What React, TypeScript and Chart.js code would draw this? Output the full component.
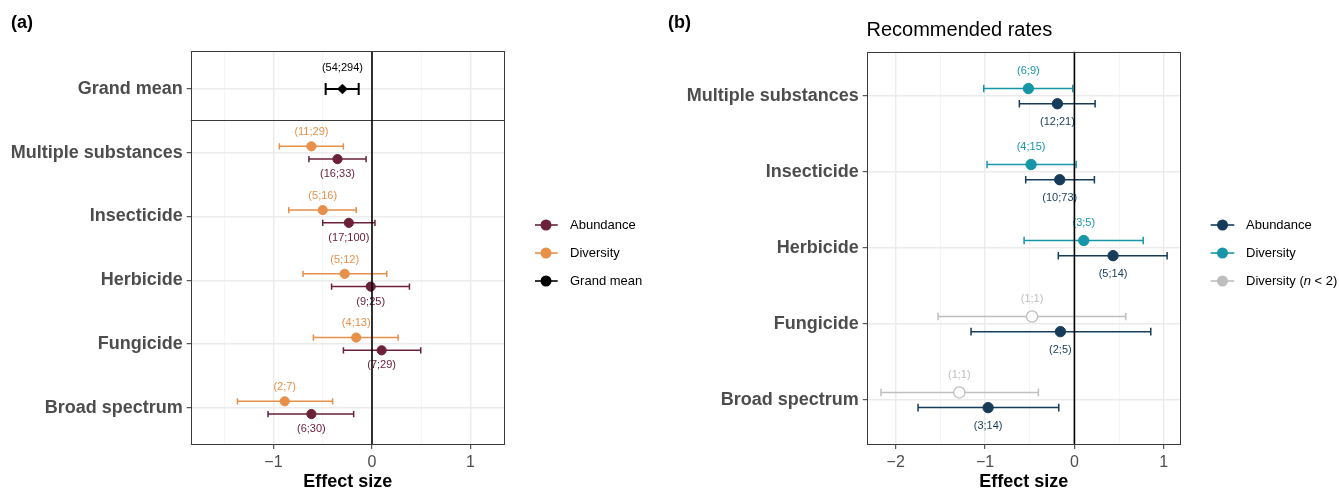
import React, { useEffect, useRef } from 'react';
import { Chart, registerables } from 'chart.js';

Chart.register(...registerables);

const FONT = "'Liberation Sans', Arial, Helvetica, sans-serif";

// ---------------- Panel (a) data ----------------
const categoriesA = ['Grand mean', 'Multiple substances', 'Insecticide', 'Herbicide', 'Fungicide', 'Broad spectrum'];

const grandMeanEst = [-0.3];
const grandMeanLo = [-0.47];
const grandMeanHi = [-0.135];
const grandMeanLabels = ['(54;294)'];

// order: Multiple substances, Insecticide, Herbicide, Fungicide, Broad spectrum
const abundanceAEst = [-0.35, -0.235, -0.013, 0.098, -0.615];
const abundanceALo = [-0.64, -0.5, -0.41, -0.29, -1.055];
const abundanceAHi = [-0.06, 0.03, 0.38, 0.495, -0.186];
const abundanceALabels = ['(16;33)', '(17;100)', '(9;25)', '(7;29)', '(6;30)'];

const diversityAEst = [-0.615, -0.5, -0.277, -0.16, -0.886];
const diversityALo = [-0.94, -0.845, -0.7, -0.595, -1.366];
const diversityAHi = [-0.29, -0.16, 0.15, 0.265, -0.4];
const diversityALabels = ['(11;29)', '(5;16)', '(5;12)', '(4;13)', '(2;7)'];

const xGridA = [-1.5, -1, -0.5, 0, 0.5, 1];

// ---------------- Panel (b) data ----------------
const categoriesB = ['Multiple substances', 'Insecticide', 'Herbicide', 'Fungicide', 'Broad spectrum'];

const abundanceBEst = [-0.19, -0.164, 0.433, -0.157, -0.966];
const abundanceBLo = [-0.616, -0.545, -0.18, -1.157, -1.75];
const abundanceBHi = [0.232, 0.224, 1.038, 0.855, -0.175];
const abundanceBLabels = ['(12;21)', '(10;73)', '(5;14)', '(2;5)', '(3;14)'];

const diversityBEst = [-0.515, -0.485, 0.105, null, null];
const diversityBLo = [-1.015, -0.978, -0.563, null, null];
const diversityBHi = [-0.018, 0.02, 0.77, null, null];
const diversityBLabels = ['(6;9)', '(4;15)', '(3;5)', '', ''];

const diversitySmallBEst = [null, null, null, -0.474, -1.288];
const diversitySmallBLo = [null, null, null, -1.526, -2.165];
const diversitySmallBHi = [null, null, null, 0.575, -0.403];
const diversitySmallBLabels = ['', '', '', '(1;1)', '(1;1)'];

const xGridB = [-2, -1.5, -1, -0.5, 0, 0.5, 1];

// ---------------- styling ----------------
const C_ABUND_A = '#6B2239';
const C_DIV_A = '#E6904A';
const C_GRAND = '#000000';
const C_ABUND_B = '#173C5A';
const C_DIV_B = '#1796A8';
const C_SMALL = '#BEBEBE';

type Num = number | null;
interface Series {
  est: Num[];
  lo: Num[];
  hi: Num[];
  labels: string[];
  pos: number[];
  color: string;
  fill: string;
  pointStyle: string;
  radius: number;
  cap: number;
  lw: number;
  labelDy: number;
}

interface LegendItem {
  parts: { t: string; italic?: boolean }[];
  color: string;
}

interface Spec {
  offset: number; // page x of canvas
  width: number;
  area: { left: number; top: number; right: number; bottom: number };
  categories: string[];
  catPos: number[];
  yMin: number;
  yMax: number;
  xMin: number;
  xMax: number;
  xGrid: number[];
  series: Series[];
  separator: number | null;
  legend: { x0: number; x1: number; cx: number; tx: number; ys: number[]; items: LegendItem[] };
  letter: { text: string; x: number; y: number };
  title: { text: string; x: number; y: number } | null;
}

const fmt = (v: number) => (v < 0 ? '\u2212' + Math.abs(v) : String(v));

function seriesDatasets(s: Series) {
  const bars: any[] = [];
  const pts: any[] = [];
  s.est.forEach((e, i) => {
    if (e == null) return;
    const p = s.pos[i];
    bars.push({ x: s.lo[i], y: p }, { x: s.hi[i], y: p }, { x: null, y: null });
    pts.push({ x: e, y: p });
  });
  return [
    {
      type: 'line',
      data: bars,
      borderColor: s.color,
      borderWidth: s.lw,
      pointStyle: 'line',
      pointRotation: 90,
      pointRadius: s.cap,
      pointBorderColor: s.color,
      pointBackgroundColor: s.color,
      pointBorderWidth: s.lw,
      showLine: true,
      spanGaps: false,
      fill: false,
      tension: 0,
      order: 2,
    },
    {
      type: 'line',
      data: pts,
      showLine: false,
      pointStyle: s.pointStyle,
      pointRadius: s.radius,
      pointBackgroundColor: s.fill,
      pointBorderColor: s.color,
      pointBorderWidth: s.pointStyle === 'circle' && s.fill === '#ffffff' ? 1.3 : 1,
      order: 1,
    },
  ];
}

function buildConfig(spec: Spec): any {
  const o = spec.offset;
  const decor = {
    id: 'decor',
    beforeDatasetsDraw(chart: any) {
      const { ctx, chartArea: a, scales } = chart;
      const y = scales.y;
      ctx.save();
      if (spec.separator != null) {
        const py = Math.round(y.getPixelForValue(spec.separator)) + 0.5;
        ctx.strokeStyle = '#3A3A3A';
        ctx.lineWidth = 1;
        ctx.beginPath();
        ctx.moveTo(a.left, py);
        ctx.lineTo(a.right, py);
        ctx.stroke();
      }
      ctx.restore();
    },
    afterDatasetsDraw(chart: any) {
      const { ctx, chartArea: a, scales } = chart;
      const x = scales.x;
      const y = scales.y;
      ctx.save();
      ctx.font = `11px ${FONT}`;
      ctx.textAlign = 'center';
      ctx.textBaseline = 'middle';
      for (const s of spec.series) {
        ctx.fillStyle = s.color;
        s.est.forEach((e, i) => {
          if (e == null || !s.labels[i]) return;
          ctx.fillText(s.labels[i], x.getPixelForValue(e), y.getPixelForValue(s.pos[i] + s.labelDy));
        });
      }
      // reference line at zero (on top, as in the original)
      const px = x.getPixelForValue(0);
      ctx.strokeStyle = '#000000';
      ctx.lineWidth = 1.6;
      ctx.beginPath();
      ctx.moveTo(px, a.top);
      ctx.lineTo(px, a.bottom);
      ctx.stroke();
      // panel border
      ctx.strokeStyle = '#3A3A3A';
      ctx.lineWidth = 1;
      const l = Math.round(a.left) + 0.5;
      const t = Math.round(a.top) + 0.5;
      const r = Math.round(a.right) - 0.5;
      const b = Math.round(a.bottom) - 0.5;
      ctx.strokeRect(l, t, r - l, b - t);
      ctx.restore();
    },
    afterDraw(chart: any) {
      const { ctx } = chart;
      ctx.save();
      // legend
      const lg = spec.legend;
      lg.items.forEach((it, k) => {
        const yy = lg.ys[k];
        ctx.strokeStyle = it.color;
        ctx.lineWidth = 1.6;
        ctx.beginPath();
        ctx.moveTo(lg.x0 - o, yy);
        ctx.lineTo(lg.x1 - o, yy);
        ctx.stroke();
        ctx.fillStyle = it.color;
        ctx.beginPath();
        ctx.arc(lg.cx - o, yy, 5.5, 0, Math.PI * 2);
        ctx.fill();
        let tx = lg.tx - o;
        ctx.fillStyle = '#000000';
        ctx.textBaseline = 'middle';
        ctx.textAlign = 'left';
        for (const p of it.parts) {
          ctx.font = `${p.italic ? 'italic ' : ''}13px ${FONT}`;
          ctx.fillText(p.t, tx, yy);
          tx += ctx.measureText(p.t).width;
        }
      });
      // panel letter
      ctx.fillStyle = '#000000';
      ctx.font = `bold 18px ${FONT}`;
      ctx.textAlign = 'left';
      ctx.textBaseline = 'middle';
      ctx.fillText(spec.letter.text, spec.letter.x - o, spec.letter.y);
      if (spec.title) {
        ctx.font = `20px ${FONT}`;
        ctx.fillText(spec.title.text, spec.title.x - o, spec.title.y);
      }
      ctx.restore();
    },
  };

  const datasets = spec.series.flatMap(seriesDatasets);
  const isInt = (v: number) => Math.abs(v - Math.round(v)) < 1e-9;

  return {
    type: 'line',
    data: { datasets },
    plugins: [decor],
    options: {
      animation: false,
      responsive: false,
      events: [],
      layout: {
        padding: {
          left: 0,
          top: spec.area.top,
          right: o + spec.width - spec.area.right,
          bottom: 0,
        },
      },
      plugins: { legend: { display: false }, tooltip: { enabled: false } },
      scales: {
        x: {
          type: 'linear',
          min: spec.xMin,
          max: spec.xMax,
          afterBuildTicks: (scale: any) => {
            scale.ticks = spec.xGrid.map((v) => ({ value: v }));
          },
          afterFit: (scale: any) => {
            scale.height = 491 - spec.area.bottom;
          },
          border: { display: false },
          grid: {
            color: (c: any) => (c.tick && isInt(c.tick.value) ? '#EBEBEB' : '#F3F3F3'),
            lineWidth: (c: any) => (c.tick && isInt(c.tick.value) ? 1.4 : 0.8),
            tickColor: (c: any) => (c.tick && isInt(c.tick.value) ? '#333333' : 'rgba(0,0,0,0)'),
            tickLength: 4,
            tickWidth: 1,
          },
          ticks: {
            autoSkip: false,
            maxRotation: 0,
            padding: 4,
            color: '#4D4D4D',
            font: { family: FONT, size: 16 },
            callback: (v: number) => (isInt(v) ? fmt(Math.round(v)) : ''),
          },
          title: {
            display: true,
            text: 'Effect size',
            color: '#000000',
            font: { family: FONT, size: 18, weight: 'bold', lineHeight: 1 },
            padding: { top: 0, bottom: 0 },
          },
        },
        y: {
          type: 'linear',
          reverse: true,
          min: spec.yMin,
          max: spec.yMax,
          afterBuildTicks: (scale: any) => {
            scale.ticks = spec.catPos.map((v) => ({ value: v }));
          },
          afterFit: (scale: any) => {
            scale.width = spec.area.left - o;
          },
          border: { display: false },
          grid: {
            color: '#EBEBEB',
            lineWidth: 1.4,
            tickColor: '#333333',
            tickLength: 4,
            tickWidth: 1,
          },
          ticks: {
            autoSkip: false,
            padding: 4,
            color: '#4D4D4D',
            font: { family: FONT, size: 18, weight: 'bold' },
            callback: (v: number) => {
              const k = spec.catPos.findIndex((p) => Math.abs(p - v) < 1e-9);
              return k >= 0 ? spec.categories[k] : '';
            },
          },
        },
      },
    },
  };
}

const DODGE = 0.1;
const catsA = [1, 2, 3, 4, 5];

const specA: Spec = {
  offset: 0,
  width: 665,
  area: { left: 190.7, top: 51, right: 505, bottom: 445 },
  categories: categoriesA,
  catPos: categoriesA.map((_, i) => i),
  yMin: -0.596,
  yMax: 5.585,
  xMin: -1.84,
  xMax: 1.35,
  xGrid: xGridA,
  separator: 0.486,
  series: [
    {
      est: diversityAEst, lo: diversityALo, hi: diversityAHi, labels: diversityALabels,
      pos: catsA.map((c) => c - DODGE), color: C_DIV_A, fill: C_DIV_A, pointStyle: 'circle',
      radius: 4.6, cap: 3.2, lw: 1.5, labelDy: -0.225,
    },
    {
      est: abundanceAEst, lo: abundanceALo, hi: abundanceAHi, labels: abundanceALabels,
      pos: catsA.map((c) => c + DODGE), color: C_ABUND_A, fill: C_ABUND_A, pointStyle: 'circle',
      radius: 4.6, cap: 3.2, lw: 1.5, labelDy: 0.235,
    },
    {
      est: grandMeanEst, lo: grandMeanLo, hi: grandMeanHi, labels: grandMeanLabels,
      pos: [0], color: C_GRAND, fill: C_GRAND, pointStyle: 'rectRot',
      radius: 4.8, cap: 6, lw: 2, labelDy: -0.325,
    },
  ],
  legend: {
    x0: 535, x1: 557.7, cx: 546, tx: 570, ys: [225, 253, 281],
    items: [
      { parts: [{ t: 'Abundance' }], color: C_ABUND_A },
      { parts: [{ t: 'Diversity' }], color: C_DIV_A },
      { parts: [{ t: 'Grand mean' }], color: C_GRAND },
    ],
  },
  letter: { text: '(a)', x: 11, y: 23 },
  title: null,
};

const catsB = [0, 1, 2, 3, 4];

const specB: Spec = {
  offset: 665,
  width: 674,
  area: { left: 866.7, top: 51.7, right: 1180.7, bottom: 445 },
  categories: categoriesB,
  catPos: categoriesB.map((_, i) => i),
  yMin: -0.585,
  yMax: 4.592,
  xMin: -2.325,
  xMax: 1.19,
  xGrid: xGridB,
  separator: null,
  series: [
    {
      est: diversityBEst, lo: diversityBLo, hi: diversityBHi, labels: diversityBLabels,
      pos: catsB.map((c) => c - DODGE), color: C_DIV_B, fill: C_DIV_B, pointStyle: 'circle',
      radius: 5.2, cap: 3.8, lw: 1.5, labelDy: -0.225,
    },
    {
      est: diversitySmallBEst, lo: diversitySmallBLo, hi: diversitySmallBHi, labels: diversitySmallBLabels,
      pos: catsB.map((c) => c - DODGE), color: C_SMALL, fill: '#ffffff', pointStyle: 'circle',
      radius: 5.6, cap: 3.8, lw: 1.5, labelDy: -0.225,
    },
    {
      est: abundanceBEst, lo: abundanceBLo, hi: abundanceBHi, labels: abundanceBLabels,
      pos: catsB.map((c) => c + DODGE), color: C_ABUND_B, fill: C_ABUND_B, pointStyle: 'circle',
      radius: 5.2, cap: 3.8, lw: 1.5, labelDy: 0.235,
    },
  ],
  legend: {
    x0: 1210.7, x1: 1234.3, cx: 1222.5, tx: 1246, ys: [225, 253, 281],
    items: [
      { parts: [{ t: 'Abundance' }], color: C_ABUND_B },
      { parts: [{ t: 'Diversity' }], color: C_DIV_B },
      { parts: [{ t: 'Diversity (' }, { t: 'n', italic: true }, { t: ' < 2)' }], color: C_SMALL },
    ],
  },
  letter: { text: '(b)', x: 668, y: 23 },
  title: { text: 'Recommended rates', x: 866.5, y: 30 },
};

function Panel({ spec }: { spec: Spec }) {
  const ref = useRef<HTMLCanvasElement>(null);
  useEffect(() => {
    const chart = new Chart(ref.current as HTMLCanvasElement, buildConfig(spec));
    return () => chart.destroy();
  }, [spec]);
  return (
    <canvas
      ref={ref}
      width={spec.width}
      height={491}
      style={{ position: 'absolute', left: spec.offset, top: 0, width: spec.width, height: 491 }}
    />
  );
}

export default function App() {
  return (
    <div style={{ position: 'fixed', left: 0, top: 0, width: 1339, height: 491, background: '#ffffff', overflow: 'hidden' }}>
      <Panel spec={specA} />
      <Panel spec={specB} />
    </div>
  );
}
